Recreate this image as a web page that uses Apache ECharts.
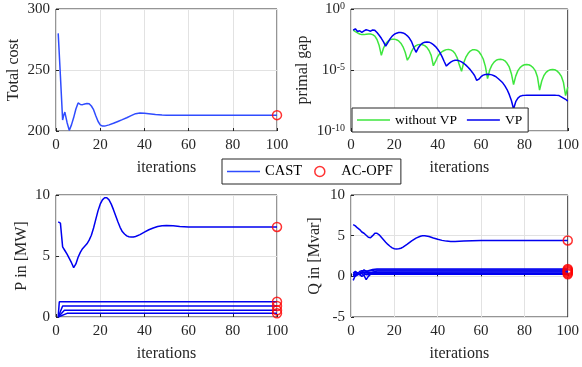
<!DOCTYPE html>
<html>
<head>
<meta charset="utf-8">
<script src="https://cdn.jsdelivr.net/npm/echarts@6/dist/echarts.min.js"></script>
<style>
  html, body { margin: 0; padding: 0; background: #fff; }
  #chart { width: 582px; height: 367px; }
</style>
</head>
<body>
<div id="chart"></div>
<script>
// iteration ticks shared by every panel
const iterTicks = [0, 20, 40, 60, 80, 100];

// total cost (top left), [iteration, cost]
const cost = [
  [1, 280], [2, 245], [3, 209], [3.5, 213], [4, 215.5], [5, 207], [6, 200.5], [7, 205], [8, 211],
  [9, 218], [10, 223], [11, 221.8], [12, 221.6], [13, 222.2], [14, 222.6], [15, 222.4], [16, 220.5],
  [17, 217.5], [18, 212.5], [19, 208], [20, 205], [21, 204], [22, 204], [24, 205], [26, 206.3],
  [28, 207.8], [30, 209.3], [32, 210.9], [34, 212.6], [36, 214.2], [38, 214.8], [40, 214.6],
  [42, 214.2], [45, 213.6], [48, 213.2], [50, 213], [60, 213], [70, 213], [80, 213], [90, 213], [100, 213]
];
const costOpf = [[100, 213]];

// primal gap (top right), log10 of the gap at iterations 1..100
const gapNoVP = [
  -1.74, -1.85, -1.95, -2.05, -2.1, -2.1, -2.07, -2.05, -2.05, -2.1,
  -2.22, -2.5, -3.0, -3.8, -3.2, -2.85, -2.65, -2.52, -2.47, -2.47,
  -2.52, -2.62, -2.8, -3.1, -3.55, -4.2, -3.9, -3.45, -3.15, -3.0,
  -2.92, -2.9, -2.93, -3.0, -3.15, -3.4, -3.8, -4.65, -4.3, -3.9,
  -3.65, -3.5, -3.4, -3.33, -3.32, -3.35, -3.45, -3.65, -4.0, -4.6,
  -5.1, -4.4, -3.95, -3.65, -3.45, -3.35, -3.33, -3.38, -3.5, -3.75,
  -4.1, -4.7, -5.7, -5.0, -4.6, -4.35, -4.2, -4.13, -4.12, -4.15,
  -4.25, -4.45, -4.75, -5.3, -6.2, -5.5, -5.05, -4.8, -4.65, -4.57,
  -4.55, -4.57, -4.65, -4.8, -5.05, -5.55, -6.65, -5.9, -5.45, -5.2,
  -5.05, -4.98, -4.96, -4.98, -5.07, -5.25, -5.5, -6.0, -7.1, -6.4
];
const gapVP = [
  -1.74, -1.62, -1.85, -1.78, -1.92, -1.8, -1.7, -1.75, -1.82, -1.72,
  -1.75, -1.92, -2.15, -2.4, -2.7, -3.05, -2.75, -2.45, -2.22, -2.07,
  -1.98, -1.93, -1.92, -1.96, -2.05, -2.2, -2.4, -2.7, -3.15, -3.55,
  -3.2, -2.95, -2.8, -2.73, -2.7, -2.72, -2.8, -2.92, -3.08, -3.3,
  -3.55, -3.9, -4.3, -4.68, -4.5, -4.35, -4.25, -4.2, -4.2, -4.25,
  -4.33, -4.45, -4.6, -4.78, -4.97, -5.2, -5.45, -5.85, -5.75, -5.55,
  -5.42, -5.37, -5.35, -5.36, -5.4, -5.47, -5.57, -5.72, -5.88, -6.05,
  -6.3, -6.6, -7.0, -7.5, -8.2, -7.6, -7.3, -7.15, -7.1, -7.08,
  -7.07, -7.07, -7.06, -7.06, -7.06, -7.06, -7.06, -7.06, -7.06, -7.06,
  -7.06, -7.06, -7.07, -7.07, -7.08, -7.1, -7.2, -7.3, -7.4, -7.55
];

// active power injections (bottom left), [iteration, MW]
const pMain = [
  [1, 7.8], [2, 7.7], [3, 5.75], [4, 5.45], [5, 5.15], [6, 4.8], [7, 4.45], [8, 4.05], [9, 4.35],
  [10, 4.9], [11, 5.3], [12, 5.6], [13, 5.8], [14, 6.0], [15, 6.3], [16, 6.7], [17, 7.3], [18, 8.0],
  [19, 8.7], [20, 9.25], [21, 9.6], [22, 9.78], [23, 9.78], [24, 9.6], [25, 9.25], [26, 8.8],
  [27, 8.3], [28, 7.8], [29, 7.35], [30, 7.0], [31, 6.8], [32, 6.65], [33, 6.58], [34, 6.55],
  [35, 6.55], [36, 6.6], [38, 6.75], [40, 6.95], [42, 7.15], [44, 7.3], [46, 7.42], [48, 7.48],
  [50, 7.5], [53, 7.47], [56, 7.42], [60, 7.38], [65, 7.37], [70, 7.38], [80, 7.38], [90, 7.38], [100, 7.38]
];
const pLow1 = [[1, 0.05], [1.5, 1.25], [100, 1.25]];
const pLow2 = [[1, 0], [3, 0.9], [100, 0.9]];
const pLow3 = [[1, 0], [3.8, 0.55], [100, 0.55]];
const pLow4 = [[1, 0], [5, 0.3], [100, 0.3]];
const pOpf = [[100, 7.38], [100, 1.25], [100, 0.9], [100, 0.55], [100, 0.3]];

// reactive power injections (bottom right), [iteration, Mvar]
const qMain = [
  [1, 6.35], [2, 6.2], [3, 5.95], [4, 5.75], [5, 5.45], [6, 5.3], [7, 5.05], [8, 4.8], [9, 4.75],
  [10, 5.0], [11, 5.3], [12, 5.3], [13, 5.1], [14, 4.8], [15, 4.5], [16, 4.2], [17, 3.92], [18, 3.7],
  [19, 3.5], [20, 3.4], [21, 3.37], [22, 3.38], [23, 3.45], [24, 3.6], [26, 3.95], [28, 4.35],
  [30, 4.7], [32, 4.93], [33, 4.98], [34, 4.98], [36, 4.9], [38, 4.72], [40, 4.55], [42, 4.42],
  [44, 4.33], [46, 4.28], [48, 4.29], [52, 4.33], [56, 4.37], [60, 4.4], [70, 4.41], [80, 4.41], [90, 4.41], [100, 4.41]
];
const qLow1 = [[1, 0.2], [2, 0.5], [3, 0.3], [4, 0.6], [5, 0.7], [6, 0.65], [8, 0.7], [10, 0.85], [12, 0.9], [100, 0.9]];
const qLow2 = [[1, -0.5], [2, 0.1], [3, 0.4], [4, 0.2], [5, 0.5], [6, 0.8], [7, 0.6], [9, 0.7], [11, 0.78], [100, 0.78]];
const qLow3 = [[1, 0.3], [2, 0.0], [3, 0.2], [5, 0.35], [6, 0.1], [7, -0.4], [8, 0.0], [10, 0.5], [12, 0.65], [100, 0.65]];
const qLow4 = [[1, 0.1], [3, 0.45], [4, 0.3], [6, 0.5], [8, 0.45], [10, 0.5], [100, 0.52]];
const qLow5 = [[1, 0.4], [2, 0.6], [4, 0.2], [5, 0.0], [7, 0.3], [9, 0.35], [100, 0.38]];
const qLow6 = [[1, 0.0], [3, 0.2], [5, 0.55], [7, 0.2], [9, 0.25], [100, 0.25]];
const qOpf = [[100, 4.41], [100, 0.9], [100, 0.78], [100, 0.65], [100, 0.52], [100, 0.38], [100, 0.25]];

const FONT = 'Liberation Serif';
const INK = '#262626';
const BLUE = '#0000f0';
const RED = '#ff0000';
const LINE_ICON = 'path://M0,0L40,0L40,1.6L0,1.6Z';

const chart = echarts.init(document.getElementById('chart'));

function grid(left, top) {
  return { left: left, top: top, width: 221, height: 122, show: true, borderColor: '#2a2a2a', borderWidth: 1, backgroundColor: '#fff' };
}

function xAxis(i) {
  return {
    gridIndex: i, type: 'value', min: 0, max: 100, interval: 20,
    name: 'iterations', nameLocation: 'middle', nameGap: 29,
    nameTextStyle: { fontFamily: FONT, fontSize: 16, color: INK },
    axisLine: { show: false },
    axisTick: { inside: true, length: 3, lineStyle: { color: INK } },
    axisLabel: { fontFamily: FONT, fontSize: 15, color: INK, margin: 7 },
    splitLine: { lineStyle: { color: '#e2e2e2' } }
  };
}

function yAxis(i, name, gap, min, max, interval) {
  return {
    gridIndex: i, type: 'value', min: min, max: max, interval: interval,
    name: name, nameLocation: 'middle', nameGap: gap,
    nameTextStyle: { fontFamily: FONT, fontSize: 16, color: INK },
    axisLine: { show: false },
    axisTick: { inside: true, length: 3, lineStyle: { color: INK } },
    axisLabel: { fontFamily: FONT, fontSize: 15, color: INK, margin: 6 },
    splitLine: { lineStyle: { color: '#e2e2e2' } }
  };
}

function line(name, data, xi, color) {
  return {
    name: name, type: 'line', xAxisIndex: xi, yAxisIndex: xi, data: data,
    symbol: 'none', clip: false, lineStyle: { color: color, width: 1.5 }, itemStyle: { color: color }
  };
}

function opf(data, xi) {
  return {
    name: 'AC-OPF', type: 'scatter', xAxisIndex: xi, yAxisIndex: xi, data: data, z: 5,
    symbol: 'circle', symbolSize: 9, clip: false,
    itemStyle: { color: 'rgba(0,0,0,0)', borderColor: RED, borderWidth: 1.5 }
  };
}

const iters = gapVP.map((_, k) => k + 1);
const logY = {
  gridIndex: 1, type: 'log', logBase: 10, min: 1e-10, max: 1, interval: 5,
  name: 'primal gap', nameLocation: 'middle', nameGap: 40,
  nameTextStyle: { fontFamily: FONT, fontSize: 16, color: INK },
  axisLine: { show: false },
  axisTick: { inside: true, length: 3, lineStyle: { color: INK } },
  minorTick: { show: false },
  axisLabel: {
    margin: 6,
    formatter: v => '{b|10}{e|' + Math.round(Math.log10(v)) + '}',
    rich: {
      b: { fontFamily: FONT, fontSize: 15, color: INK },
      e: { fontFamily: FONT, fontSize: 10, color: INK, verticalAlign: 'top', padding: [0, 0, 6, 0] }
    }
  },
  splitLine: { lineStyle: { color: '#e2e2e2' } }
};

chart.setOption({
  animation: false,
  grid: [grid(56, 9), grid(351, 9), grid(56, 195), grid(351, 195)],
  xAxis: [xAxis(0), xAxis(1), xAxis(2), xAxis(3)],
  yAxis: [
    yAxis(0, 'Total cost', 34, 200, 300, 50),
    logY,
    yAxis(2, 'P in [MW]', 26, 0, 10, 5),
    yAxis(3, 'Q in [Mvar]', 28, -5, 10, 5)
  ],
  legend: [
    {
      data: [
        { name: 'CAST', icon: LINE_ICON, itemStyle: { color: '#2f4cff', borderWidth: 0 } },
        { name: 'AC-OPF', icon: 'circle', itemStyle: { color: 'rgba(0,0,0,0)', borderColor: RED, borderWidth: 1.5 } }
      ],
      left: 222, top: 159, orient: 'horizontal',
      itemWidth: 33, itemHeight: 10, itemGap: 12, padding: [5, 8, 5, 5],
      borderColor: INK, borderWidth: 1, backgroundColor: '#fff', selectedMode: false,
      textStyle: { fontFamily: FONT, fontSize: 14.5, color: '#000' }
    },
    {
      data: [
        { name: 'without VP', icon: LINE_ICON, itemStyle: { color: '#3ee63e', borderWidth: 0 } },
        { name: 'VP', icon: LINE_ICON, itemStyle: { color: BLUE, borderWidth: 0 } }
      ],
      left: 352, top: 108, orient: 'horizontal',
      itemWidth: 33, itemHeight: 10, itemGap: 10, padding: [5, 6, 5, 5],
      borderColor: INK, borderWidth: 1, backgroundColor: '#fff', selectedMode: false,
      textStyle: { fontFamily: FONT, fontSize: 13.5, color: '#000' }
    }
  ],
  series: [
    line('CAST', cost, 0, '#2f4cff'),
    opf(costOpf, 0),
    line('without VP', iters.map((k, j) => [k, Math.pow(10, gapNoVP[j])]), 1, '#3ee63e'),
    line('VP', iters.map((k, j) => [k, Math.pow(10, gapVP[j])]), 1, BLUE),
    line('CAST', pMain, 2, BLUE),
    line('CAST', pLow1, 2, BLUE),
    line('CAST', pLow2, 2, BLUE),
    line('CAST', pLow3, 2, BLUE),
    line('CAST', pLow4, 2, BLUE),
    opf(pOpf, 2),
    line('CAST', qMain, 3, BLUE),
    line('CAST', qLow1, 3, BLUE),
    line('CAST', qLow2, 3, BLUE),
    line('CAST', qLow3, 3, BLUE),
    line('CAST', qLow4, 3, BLUE),
    line('CAST', qLow5, 3, BLUE),
    line('CAST', qLow6, 3, BLUE),
    opf(qOpf, 3)
  ]
});
</script>
</body>
</html>
